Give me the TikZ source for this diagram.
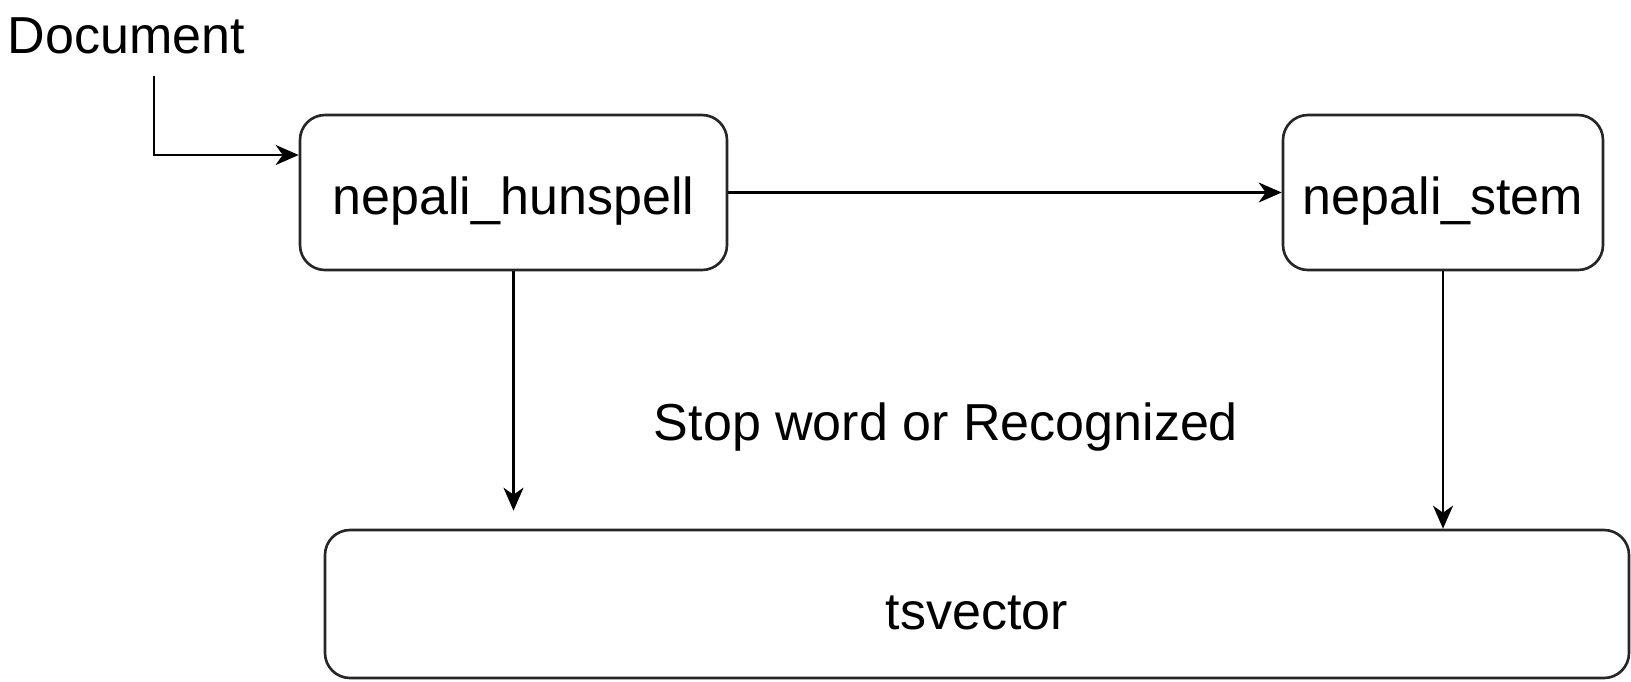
\documentclass[tikz,border=0pt]{standalone}
\usepackage{fontspec}
\setmainfont{Liberation Sans}
\usetikzlibrary{arrows.meta}
\newcommand{\lowertext}[1]{\raisebox{-0.9mm}[\height][\depth]{#1}}
\begin{document}
\begin{tikzpicture}[
  x=1cm,y=1cm,
  every node/.style={font=\fontsize{14.8}{18}\selectfont},
  box/.style={draw=black!85, line width=0.75pt, rounded corners=0.25cm, inner sep=0pt},
  arr/.style={draw=black, line width=0.7pt, -{Stealth[length=2.3mm,width=2mm,inset=0.7mm]}}
]
\useasboundingbox (0,0) rectangle (16.31,-6.81);
\node[anchor=base west, inner sep=0pt] (doc) at (0.07,-0.53) {Document};
\node[box, minimum width=4.27cm, minimum height=1.55cm] (hun) at (5.135,-1.925) {\lowertext{nepali\_hunspell}};
\node[box, minimum width=3.20cm, minimum height=1.55cm] (stem) at (14.43,-1.925) {\lowertext{nepali\_stem}};
\node[box, minimum width=13.04cm, minimum height=1.48cm] (tsv) at (9.77,-6.04) {\lowertext{tsvector}};
\node[anchor=base, inner sep=0pt] (lbl) at (9.46,-4.40) {Stop word or Recognized};
\coordinate (dstart) at (1.54,-0.76);
\draw[arr] (dstart) |- ([yshift=3.75mm]hun.west);
\draw[arr] (hun.east) -- (stem.west);
\draw[arr] (hun.south) -- ([yshift=1.8mm]hun.south |- tsv.north);
\draw[arr] (stem.south) -- (stem.south |- tsv.north);
\end{tikzpicture}
\end{document}
